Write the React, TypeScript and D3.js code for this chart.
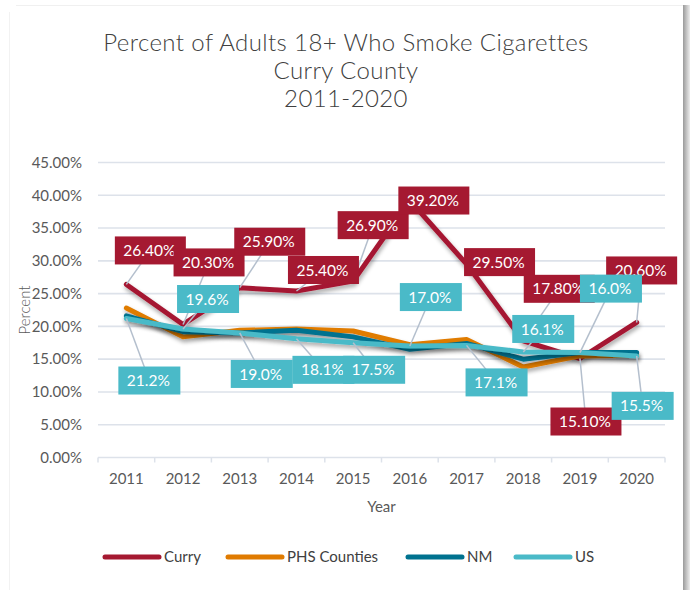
import React from "react";
import * as d3 from "d3";

const years = ["2011", "2012", "2013", "2014", "2015", "2016", "2017", "2018", "2019", "2020"];
const curry = [26.4, 20.3, 25.9, 25.4, 26.9, 39.2, 29.5, 17.8, 15.1, 20.6];
const phs = [22.8, 18.4, 19.4, 19.6, 19.3, 17.2, 18.0, 13.8, 15.5, 15.6];
const nm = [21.6, 19.2, 19.0, 19.4, 18.4, 16.5, 17.4, 15.0, 16.0, 16.0];
const us = [21.2, 19.6, 19.0, 18.1, 17.5, 17.0, 17.1, 16.1, 16.0, 15.5];
const yTicks = [0, 5, 10, 15, 20, 25, 30, 35, 40, 45];
const titleLines = ["Percent of Adults 18+ Who Smoke Cigarettes", "Curry County", "2011-2020"];

// label offsets (px) from the data point to the label box centre
const curryLabelOffsets = [
  [24, -34], [26, -62], [30, -46], [27, -21], [20, -56],
  [24, 0], [33, -2], [36, -52], [6, 63], [5, -52],
];
const usLabelOffsets = [
  [23, 62], [25, -30], [22, 41], [27, 31], [21, 27],
  [21, -49], [30, 37], [20, -23], [31, -64], [6, 50],
];

const COLORS = {
  curry: "#A51931",
  phs: "#E07B00",
  nm: "#00728F",
  us: "#4ABAC8",
};

const series = [
  { name: "Curry", values: curry, color: COLORS.curry },
  { name: "PHS Counties", values: phs, color: COLORS.phs },
  { name: "NM", values: nm, color: COLORS.nm },
  { name: "US", values: us, color: COLORS.us },
];

const FONT = "Lato, 'Noto Sans', sans-serif";

export default function App() {
  const W = 690;
  const H = 590;
  const x = d3.scaleBand<string>().domain(years).range([98, 665]).padding(0);
  const y = d3.scaleLinear().domain([0, 45]).range([457.5, 162.5]);
  const cx = (yr: string) => (x(yr) as number) + x.bandwidth() / 2;
  const line = d3
    .line<number>()
    .x((_, i) => cx(years[i]))
    .y((v) => y(v))
    .curve(d3.curveLinear);
  const fmtTick = d3.format(".2%");

  const labelSets = [
    { values: curry, offsets: curryLabelOffsets, color: COLORS.curry, fmt: (v: number) => v.toFixed(2) + "%", w: 71 },
    { values: us, offsets: usLabelOffsets, color: COLORS.us, fmt: (v: number) => v.toFixed(1) + "%", w: 62 },
  ];

  const legendItems = [
    { name: "Curry", color: COLORS.curry, x0: 105 },
    { name: "PHS Counties", color: COLORS.phs, x0: 228 },
    { name: "NM", color: COLORS.nm, x0: 408 },
    { name: "US", color: COLORS.us, x0: 516 },
  ];

  return (
    <svg
      width={W}
      height={H}
      style={{ position: "absolute", left: 0, top: 0, background: "#fff" }}
      fontFamily={FONT}
    >
      <defs>
        <filter id="shadow" x="-5%" y="-20%" width="110%" height="160%">
          <feGaussianBlur in="SourceAlpha" stdDeviation="2" />
          <feOffset dx="1" dy="3" result="ob" />
          <feComponentTransfer>
            <feFuncA type="linear" slope="0.35" />
          </feComponentTransfer>
          <feMerge>
            <feMergeNode />
            <feMergeNode in="SourceGraphic" />
          </feMerge>
        </filter>
        <linearGradient id="rightShade" x1="0" x2="1" y1="0" y2="0">
          <stop offset="0" stopColor="#9a9a9a" />
          <stop offset="1" stopColor="#ededed" />
        </linearGradient>
      </defs>
      <rect x={0} y={0} width={W} height={H} fill="#fff" />
      {/* card edges */}
      <line x1={16} x2={683} y1={5.5} y2={5.5} stroke="#f0f0f0" />
      <line x1={9.5} x2={9.5} y1={12} y2={H} stroke="#f2f2f2" />
      <rect x={683} y={5} width={7} height={H - 5} fill="url(#rightShade)" />

      {/* title */}
      {titleLines.map((t, i) => (
        <text
          key={t}
          x={346}
          y={51 + i * 28}
          textAnchor="middle"
          fontSize={24}
          fontWeight={300}
          letterSpacing={0.4}
          fill="#404040"
        >
          {t}
        </text>
      ))}

      {/* grid + y ticks */}
      {yTicks.map((t) => (
        <g key={t}>
          <line x1={98} x2={665} y1={y(t)} y2={y(t)} stroke="#DDE2EA" strokeWidth={1.6} />
          <text x={82} y={y(t)} dy="0.35em" textAnchor="end" fontSize={15} fill="#595959">
            {fmtTick(t / 100)}
          </text>
        </g>
      ))}

      {/* x axis ticks */}
      {years.map((yr) => (
        <line
          key={"tk" + yr}
          x1={x(yr) as number}
          x2={x(yr) as number}
          y1={y(0)}
          y2={y(0) + 5}
          stroke="#DDE2EA"
          strokeWidth={1.5}
        />
      ))}
      <line x1={665} x2={665} y1={y(0)} y2={y(0) + 5} stroke="#DDE2EA" strokeWidth={1.5} />
      {years.map((yr) => (
        <text key={"xl" + yr} x={cx(yr)} y={479} dy="0.35em" textAnchor="middle" fontSize={15} fill="#595959">
          {yr}
        </text>
      ))}
      <text x={381.5} y={507} dy="0.35em" textAnchor="middle" fontSize={15} fill="#595959">
        Year
      </text>
      <text
        transform={`translate(25,310) rotate(-90)`}
        textAnchor="middle"
        dy="0.35em"
        fontSize={15}
        fontWeight={300}
        fill="#595959"
      >
        Percent
      </text>

      {/* series lines */}
      {series.map((s) => (
        <path
          key={s.name}
          d={line(s.values) || ""}
          fill="none"
          stroke={s.color}
          strokeWidth={5}
          strokeLinejoin="round"
          strokeLinecap="round"
          filter="url(#shadow)"
        />
      ))}

      {/* leader lines */}
      {labelSets.map((ls, si) =>
        ls.values.map((v, i) => {
          const px = cx(years[i]);
          const py = y(v);
          const [dx, dy] = ls.offsets[i];
          return (
            <line
              key={`ld${si}-${i}`}
              x1={px}
              y1={py}
              x2={px + dx}
              y2={py + dy}
              stroke="#B4BFCD"
              strokeWidth={1.5}
            />
          );
        })
      )}

      {/* label boxes */}
      {labelSets.map((ls, si) =>
        ls.values.map((v, i) => {
          const px = cx(years[i]) + ls.offsets[i][0];
          const py = y(v) + ls.offsets[i][1];
          return (
            <g key={`lb${si}-${i}`}>
              <rect x={px - ls.w / 2} y={py - 14} width={ls.w} height={28} fill={ls.color} />
              <text x={px - 1} y={py} dy="0.36em" textAnchor="middle" fontSize={15.5} fill="#fff">
                {ls.fmt(v)}
              </text>
            </g>
          );
        })
      )}

      {/* legend */}
      {legendItems.map((it) => (
        <g key={it.name}>
          <line
            x1={it.x0}
            x2={it.x0 + 54}
            y1={557}
            y2={557}
            stroke={it.color}
            strokeWidth={5}
            strokeLinecap="round"
          />
          <text x={it.x0 + 59} y={557} dy="0.36em" fontSize={15} fill="#404040">
            {it.name}
          </text>
        </g>
      ))}
    </svg>
  );
}
